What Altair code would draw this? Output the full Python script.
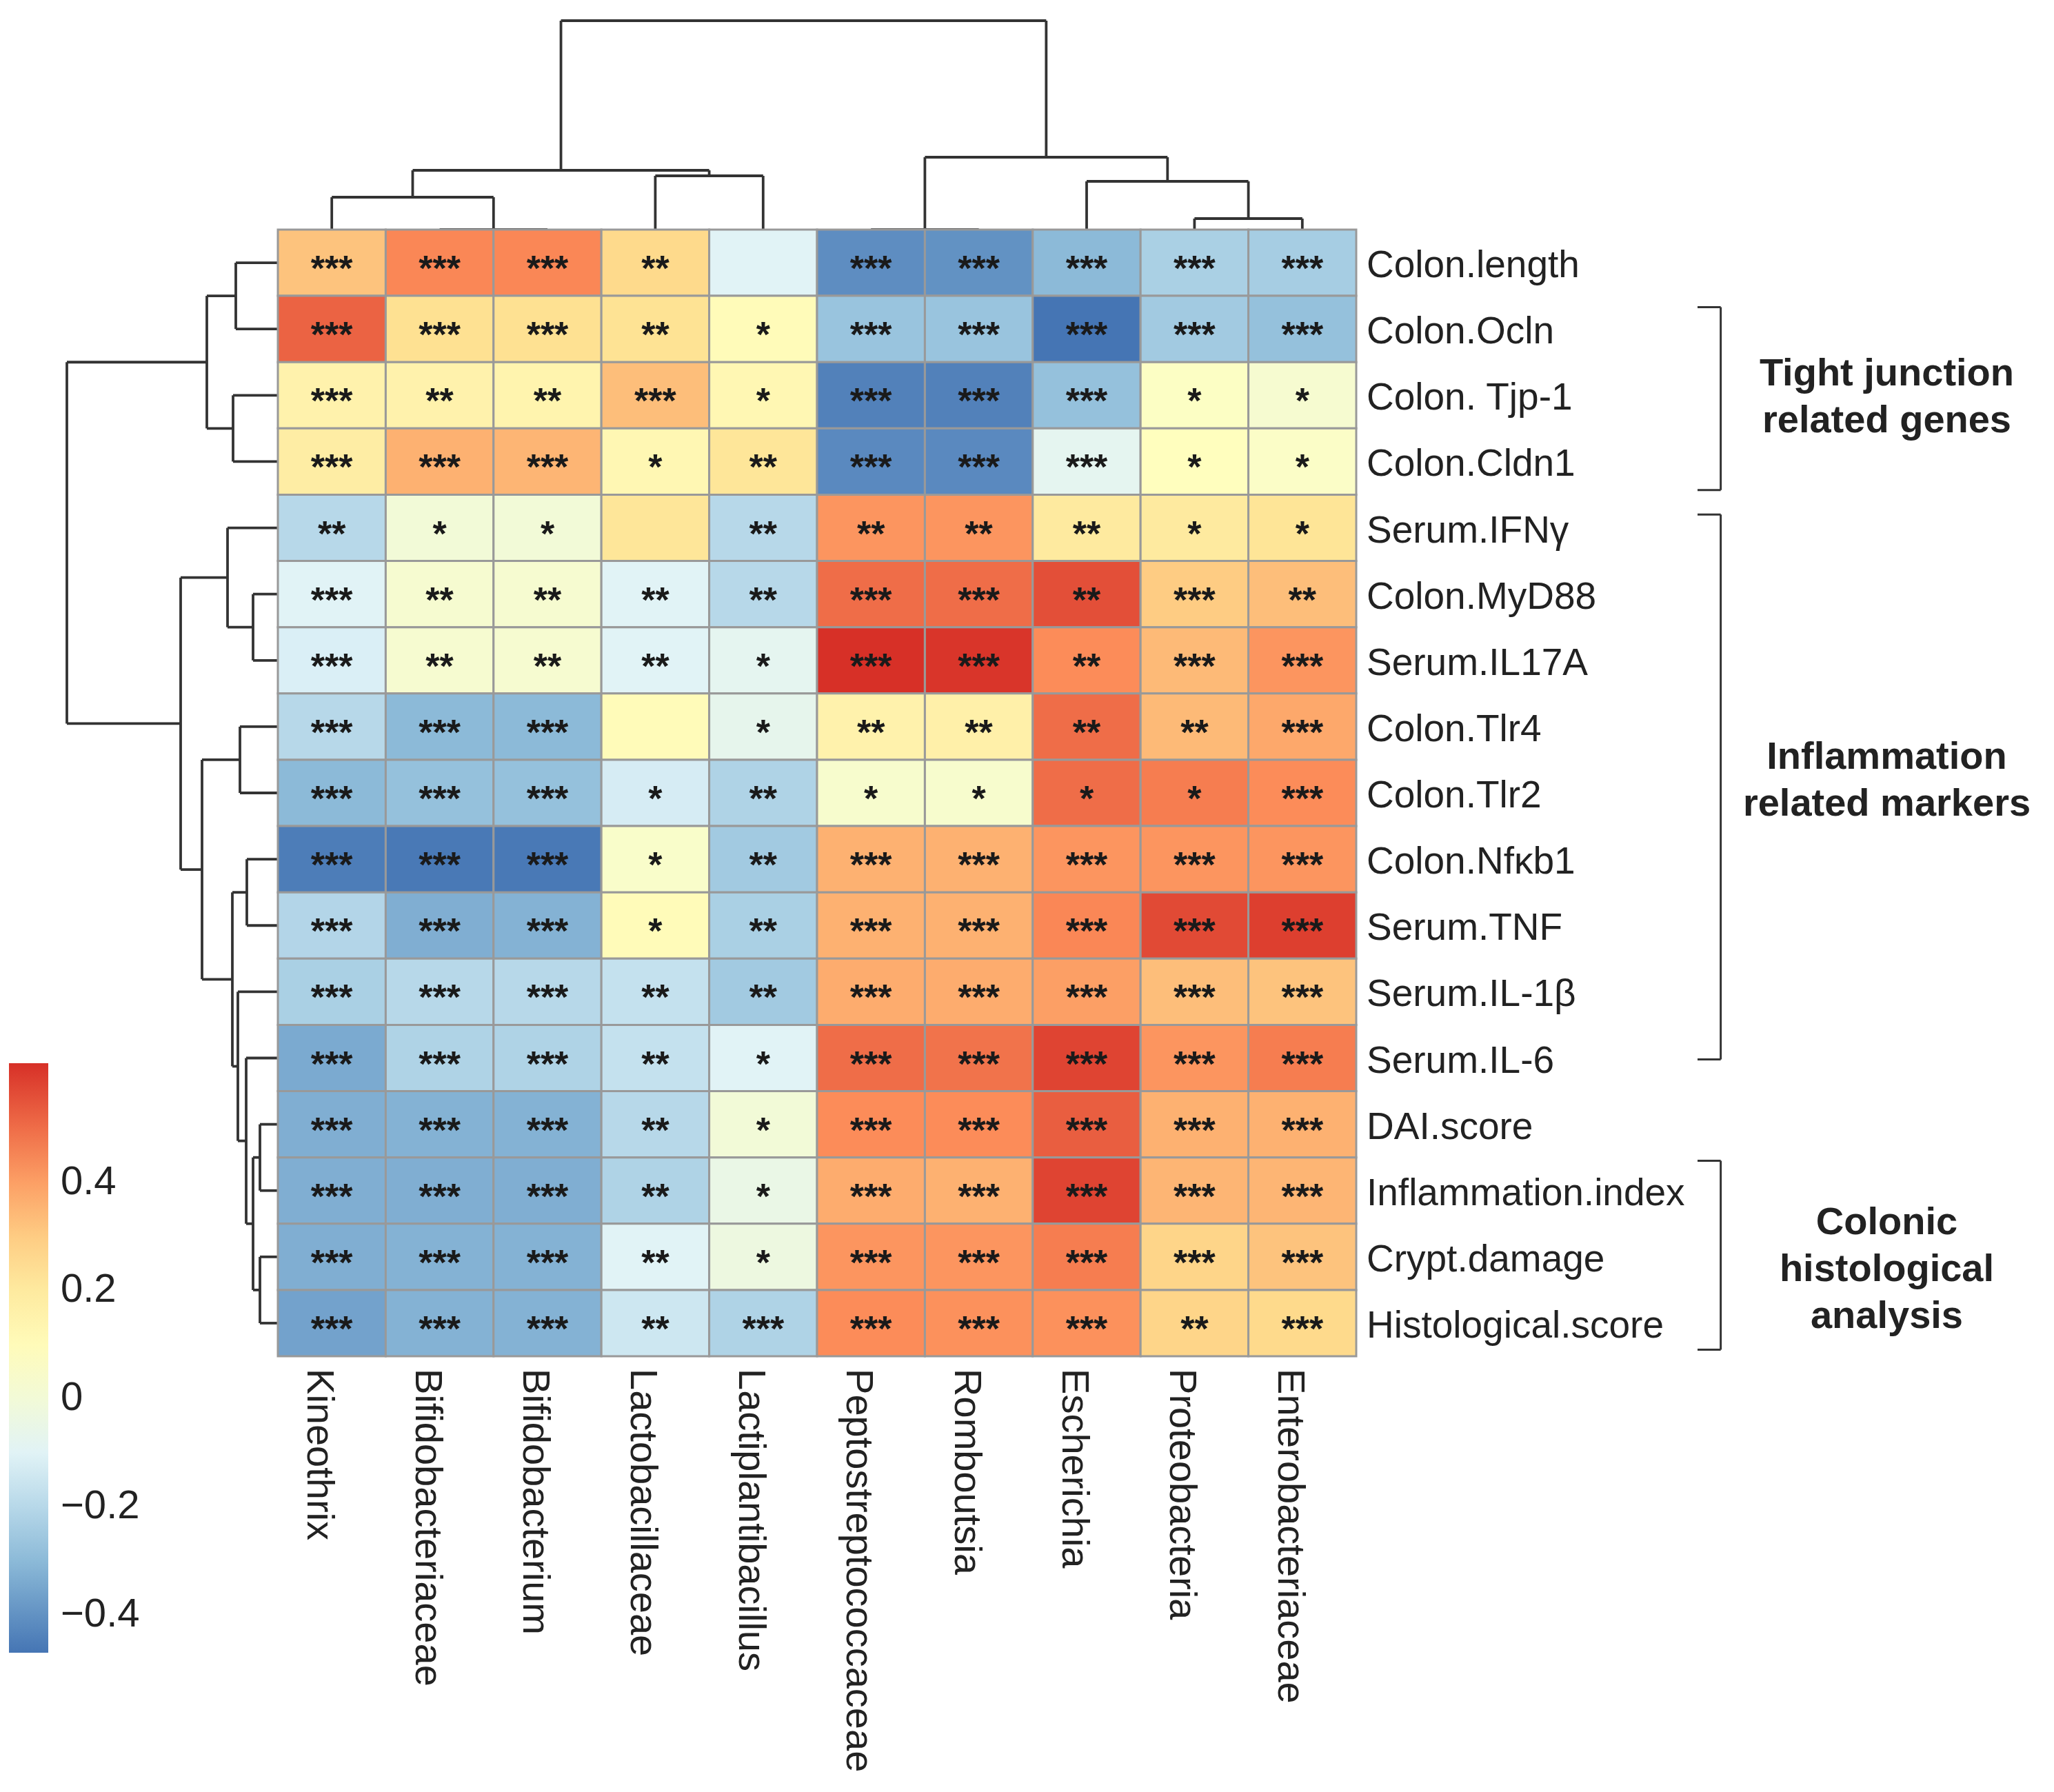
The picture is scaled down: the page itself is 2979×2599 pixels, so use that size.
import altair as alt
import pandas as pd

# ---------------- data ----------------
genera = ["Kineothrix", "Bifidobacteriaceae", "Bifidobacterium", "Lactobacillaceae",
          "Lactiplantibacillus", "Peptostreptococcaceae", "Romboutsia", "Escherichia",
          "Proteobacteria", "Enterobacteriaceae"]

markers = ["Colon.length", "Colon.Ocln", "Colon. Tjp-1", "Colon.Cldn1", "Serum.IFNγ",
           "Colon.MyD88", "Serum.IL17A", "Colon.Tlr4", "Colon.Tlr2", "Colon.Nfκb1",
           "Serum.TNF", "Serum.IL-1β", "Serum.IL-6", "DAI.score", "Inflammation.index",
           "Crypt.damage", "Histological.score"]

correlation = [
    [0.32, 0.45, 0.45, 0.27, -0.10, -0.41, -0.40, -0.30, -0.23, -0.24],
    [0.52, 0.25, 0.25, 0.24, 0.10, -0.27, -0.27, -0.47, -0.25, -0.28],
    [0.15, 0.15, 0.14, 0.33, 0.12, -0.44, -0.44, -0.28, 0.06, 0.02],
    [0.18, 0.36, 0.35, 0.12, 0.22, -0.42, -0.42, -0.08, 0.08, 0.05],
    [-0.20, 0.00, 0.00, 0.22, -0.20, 0.42, 0.42, 0.20, 0.20, 0.23],
    [-0.10, 0.02, 0.02, -0.10, -0.20, 0.50, 0.50, 0.56, 0.30, 0.33],
    [-0.12, 0.02, 0.02, -0.10, -0.08, 0.62, 0.61, 0.44, 0.34, 0.42],
    [-0.20, -0.30, -0.30, 0.10, -0.07, 0.15, 0.16, 0.50, 0.34, 0.38],
    [-0.30, -0.28, -0.28, -0.13, -0.22, 0.03, 0.03, 0.50, 0.47, 0.44],
    [-0.45, -0.46, -0.46, 0.04, -0.25, 0.36, 0.36, 0.42, 0.42, 0.42],
    [-0.21, -0.33, -0.32, 0.10, -0.23, 0.36, 0.36, 0.45, 0.57, 0.59],
    [-0.23, -0.20, -0.20, -0.17, -0.25, 0.37, 0.37, 0.40, 0.33, 0.32],
    [-0.34, -0.22, -0.22, -0.17, -0.10, 0.50, 0.49, 0.58, 0.42, 0.47],
    [-0.33, -0.32, -0.32, -0.20, 0.00, 0.44, 0.44, 0.53, 0.36, 0.36],
    [-0.33, -0.33, -0.33, -0.22, -0.05, 0.37, 0.36, 0.58, 0.35, 0.35],
    [-0.33, -0.32, -0.32, -0.10, -0.03, 0.42, 0.42, 0.47, 0.28, 0.32],
    [-0.36, -0.32, -0.32, -0.15, -0.22, 0.44, 0.43, 0.43, 0.28, 0.27],
]

stars = [
    ["***", "***", "***", "**", "", "***", "***", "***", "***", "***"],
    ["***", "***", "***", "**", "*", "***", "***", "***", "***", "***"],
    ["***", "**", "**", "***", "*", "***", "***", "***", "*", "*"],
    ["***", "***", "***", "*", "**", "***", "***", "***", "*", "*"],
    ["**", "*", "*", "", "**", "**", "**", "**", "*", "*"],
    ["***", "**", "**", "**", "**", "***", "***", "**", "***", "**"],
    ["***", "**", "**", "**", "*", "***", "***", "**", "***", "***"],
    ["***", "***", "***", "", "*", "**", "**", "**", "**", "***"],
    ["***", "***", "***", "*", "**", "*", "*", "*", "*", "***"],
    ["***", "***", "***", "*", "**", "***", "***", "***", "***", "***"],
    ["***", "***", "***", "*", "**", "***", "***", "***", "***", "***"],
    ["***", "***", "***", "**", "**", "***", "***", "***", "***", "***"],
    ["***", "***", "***", "**", "*", "***", "***", "***", "***", "***"],
    ["***", "***", "***", "**", "*", "***", "***", "***", "***", "***"],
    ["***", "***", "***", "**", "*", "***", "***", "***", "***", "***"],
    ["***", "***", "***", "**", "*", "***", "***", "***", "***", "***"],
    ["***", "***", "***", "**", "***", "***", "***", "***", "**", "***"],
]

# hierarchical clustering (hclust style: negative = leaf in display order, positive = earlier step)
col_merge = [(-2, -3), (-6, -7), (-9, -10), (-1, 1), (-8, 3), (-4, -5), (4, 6), (2, 5), (7, 8)]
col_heights = [0, 0, 16, 47, 70, 78, 86, 105, 303]

row_merge = [(-14, -15), (-16, -17), (-6, -7), (1, 2), (-10, -11), (-13, 4), (-8, -9),
             (-12, 6), (-1, -2), (-3, -4), (5, 8), (-5, 3), (9, 10), (7, 11), (12, 14), (13, 15)]
row_heights = [26, 26, 36, 36, 45, 46, 55, 58, 61, 65, 66, 73, 103, 110, 141, 306]

# annotation groups (in row units)
group_lines = [["Tight junction", "related genes"],
               ["Inflammation", "related markers"],
               ["Colonic", "histological", "analysis"]]
bracket_top = [1.17, 4.30, 14.05]
bracket_bottom = [3.93, 12.52, 16.90]
group_center_y = [2.525, 8.31, 15.69]

legend_values = [-0.4, -0.2, 0, 0.2, 0.4]
palette = ["#4575B4", "#91BFDB", "#E0F3F8", "#FFFFBF", "#FEE090", "#FC8D59", "#D73027"]

# ---------------- layout ----------------
FONT = "Liberation Sans"
TXT = "#222222"
W, H = 2963, 2583
CW, CH = 156.4, 96.12          # cell size in px
OX, OY = 395, 325              # heatmap top-left inside plot area
TOP_DEND_PX, LEFT_DEND_PX = 303, 306
BRACKET_X, BRACKET_TICK = 13.38, 0.215
GROUP_LABEL_X = 14.92
GROUP_LINE_H = 68

ncol, nrow = len(genera), len(markers)
xscale = alt.Scale(domain=[-OX / CW, (W - OX) / CW], nice=False, zero=False)
yscale = alt.Scale(domain=[-OY / CH, (H - OY) / CH], nice=False, zero=False, reverse=True)


def X(f):
    return alt.X(f, type="quantitative", scale=xscale, axis=None)


def Y(f):
    return alt.Y(f, type="quantitative", scale=yscale, axis=None)


cells = []
for i, m in enumerate(markers):
    for j, g in enumerate(genera):
        cells.append({"marker": m, "genus": g, "value": correlation[i][j], "stars": stars[i][j],
                      "x0": j, "x1": j + 1, "y0": i, "y1": i + 1, "xm": j + 0.5, "ym": i + 0.5})
cells = pd.DataFrame(cells)

vmin = min(min(r) for r in correlation)
vmax = max(max(r) for r in correlation)


def dendro(merge, heights):
    hmax = max(heights)
    pos = {}
    segs = []

    def get(c):
        return (-c - 1 + 0.5, 0.0) if c < 0 else pos[c]

    for k, ((a, b), h) in enumerate(zip(merge, heights), start=1):
        h = h / hmax
        pa, ha = get(a)
        pb, hb = get(b)
        segs += [(pa, ha, pa, h), (pb, hb, pb, h), (pa, h, pb, h)]
        pos[k] = ((pa + pb) / 2, h)
    return segs


top = pd.DataFrame([{"x": p1, "x2": p2, "y": -h1 * TOP_DEND_PX / CH, "y2": -h2 * TOP_DEND_PX / CH}
                    for p1, h1, p2, h2 in dendro(col_merge, col_heights)])
left = pd.DataFrame([{"y": p1, "y2": p2, "x": -h1 * LEFT_DEND_PX / CW, "x2": -h2 * LEFT_DEND_PX / CW}
                     for p1, h1, p2, h2 in dendro(row_merge, row_heights)])

brk = []
for t, b in zip(bracket_top, bracket_bottom):
    brk += [{"x": BRACKET_X, "x2": BRACKET_X, "y": t, "y2": b},
            {"x": BRACKET_X - BRACKET_TICK, "x2": BRACKET_X, "y": t, "y2": t},
            {"x": BRACKET_X - BRACKET_TICK, "x2": BRACKET_X, "y": b, "y2": b}]
brk = pd.DataFrame(brk)

rowlab = pd.DataFrame({"label": markers, "x": [ncol] * nrow, "y": [i + 0.5 for i in range(nrow)]})
collab = pd.DataFrame({"label": genera, "x": [j + 0.5 for j in range(ncol)], "y": [nrow] * ncol})
grp = []
for lines, cy in zip(group_lines, group_center_y):
    n = len(lines)
    for k, s in enumerate(lines):
        grp.append({"label": s, "x": GROUP_LABEL_X,
                    "y": cy + (k - (n - 1) / 2) * GROUP_LINE_H / CH})
grplab = pd.DataFrame(grp)

line_style = dict(color="#333333", strokeWidth=3.8)

top_layer = alt.Chart(top).mark_rule(**line_style).encode(x=X("x"), x2="x2", y=Y("y"), y2="y2")
left_layer = alt.Chart(left).mark_rule(**line_style).encode(x=X("x"), x2="x2", y=Y("y"), y2="y2")
brk_layer = alt.Chart(brk).mark_rule(color="#333333", strokeWidth=3).encode(x=X("x"), x2="x2", y=Y("y"), y2="y2")

heat = alt.Chart(cells).mark_rect(stroke="#999999", strokeWidth=3).encode(
    x=X("x0"), x2="x1", y=Y("y0"), y2="y1",
    color=alt.Color("value:Q",
                    scale=alt.Scale(domain=[vmin, vmax], range=palette, interpolate="rgb"),
                    legend=alt.Legend(title=None, orient="none", legendX=5, legendY=1534,
                                      direction="vertical", gradientLength=855,
                                      gradientThickness=57, values=legend_values,
                                      format="~g", labelFontSize=58, labelFont=FONT,
                                      labelColor=TXT, labelOffset=18, padding=0,
                                      gradientStrokeWidth=0, labelOverlap=False)),
)

star_layer = alt.Chart(cells).mark_text(font=FONT, fontSize=52, fontWeight="bold", color="#1a1a1a",
                                        dy=10, baseline="middle", align="center").encode(
    x=X("xm"), y=Y("ym"), text="stars:N")

row_layer = alt.Chart(rowlab).mark_text(font=FONT, fontSize=55, color=TXT, align="left",
                                        baseline="middle", dx=15, dy=4).encode(
    x=X("x"), y=Y("y"), text="label:N")

col_layer = alt.Chart(collab).mark_text(font=FONT, fontSize=56, color=TXT, align="left",
                                        baseline="middle", angle=90, dx=18, dy=18).encode(
    x=X("x"), y=Y("y"), text="label:N")

grp_layer = alt.Chart(grplab).mark_text(font=FONT, fontSize=56, fontWeight="bold", color=TXT,
                                        align="center", baseline="middle").encode(
    x=X("x"), y=Y("y"), text="label:N")

chart = alt.layer(top_layer, left_layer, heat, star_layer, row_layer, col_layer,
                  brk_layer, grp_layer).properties(
    width=W, height=H, padding=0, autosize=alt.AutoSizeParams(type="none"),
    background="white",
).configure_view(stroke=None)

chart.save("out.html", embed_options={"renderer": "svg", "actions": False})
